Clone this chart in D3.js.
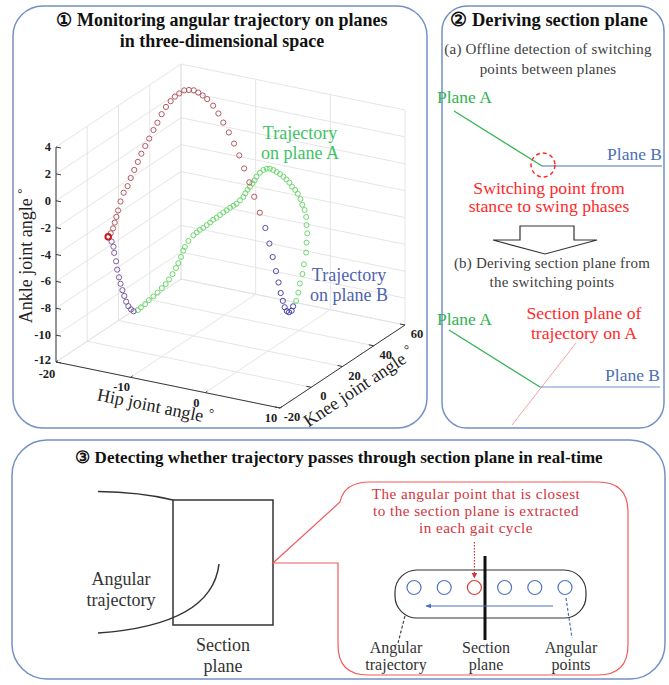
<!DOCTYPE html>
<html>
<head>
<meta charset="utf-8">
<script src="https://cdn.jsdelivr.net/npm/d3@7"></script>
<style>
  body { margin: 0; background: #fff; }
  text { font-family: "Liberation Serif", "Times New Roman", serif; }
</style>
</head>
<body>
<svg id="fig" width="669" height="685"></svg>
<script>
// axis ticks of the 3-D plot
const hipTicks = [-20, -10, 0, 10];
const kneeTicks = [-20, 0, 20, 40, 60];
const ankleTicks = [-12, -10, -8, -6, -4, -2, 0, 2, 4];

// trajectory points: [hip, knee, ankle] in degrees
const switchPoint = [-15.1, -10, -2.9];
const swingPoints = [
  [-15.4,-7,-2.9],[-15.5,-5,-2.7],[-15.9,-2,-2.55],[-16.1,0,-2.3],[-16.5,3,-2.1],[-16.8,6,-1.7],
  [-16.8,8,-1.2],[-16.9,11,-0.95],[-16.9,13,-0.5],[-17.05,16,-0.15],[-17.2,19,0.2],[-17.15,21,0.66],
  [-17.25,24,0.99],[-17.35,27,1.3],[-17.2,29,1.8],[-17.3,32,2.1],[-17.15,34,2.6],[-17.2,37,2.9],
  [-17.2,40,3.1],[-17.05,42,3.3],[-17.1,45,3.3],[-16.85,47,3.4],[-16.85,50,3.2],[-16.2,50,3.25],
  [-15.6,50,3.15],[-15.0,50,3.0],[-14.4,50,2.8],[-13.6,50,2.4],[-12.9,50,1.9],[-12.25,50,1.3],
  [-11.5,50,0.65],[-10.8,50,-0.1],[-10.1,50,-0.9],[-9.45,50,-1.8],[-8.75,50,-2.75],[-8.1,50,-3.75],
  [-7.35,50,-4.85]
];
const planeBRight = [
  [-6.4,49,-5.8],[-5.65,48,-6.8],[-5.0,47,-7.65],[-4.35,46,-8.55],[-3.8,45,-9.25],[-3.3,44,-9.9],
  [-2.8,43,-10.35],[-2.35,42,-10.7],[-1.85,41,-10.85],[-1.35,40,-10.8],[-1.0,40,-10.65],[-0.8,40,-10.3]
];
const planeA = [
  [-0.4,40,-9.85],[-0.1,40,-9.2],[0.1,40,-8.5],[0.45,40,-7.75],[0.65,40,-7.0],[0.95,40,-6.1],
  [1.0,40,-5.35],[1.1,40,-4.65],[1.0,40,-4.05],[0.95,40,-3.45],[0.95,39,-2.85],[0.75,38.5,-2.45],
  [0.6,38,-2.0],[0.35,37.5,-1.6],[0.1,37,-1.3],[-0.2,36.5,-1.05],[-0.45,36,-0.75],[-0.75,35.5,-0.5],
  [-1.05,35,-0.3],[-1.4,34.5,-0.1],[-1.75,34,0.05],[-2.1,33.5,0.2],[-2.45,33,0.3],[-2.65,32,0.35],
  [-2.9,31,0.3],[-3.15,30,0.15],[-3.4,29,-0.1],[-3.45,28,-0.3],[-3.55,27,-0.45],[-3.65,26,-0.65],
  [-3.75,25,-0.8],[-3.85,24,-1.0],[-3.9,23,-1.2],[-4.15,22,-1.4],[-4.4,21,-1.6],[-4.7,20.5,-1.75],
  [-5.05,20,-1.9],[-5.4,19.5,-2.1],[-5.75,19,-2.25],[-6.1,18.5,-2.45],[-6.45,18,-2.65],[-6.8,17.5,-2.8],
  [-7.1,17,-3.0],[-7.35,16,-3.15],[-7.6,15,-3.3],[-7.85,14,-3.4],[-8.05,13,-3.55],[-8.3,12,-3.7],
  [-8.55,10,-4.0],[-8.6,8,-4.3],[-8.6,7,-4.5],[-8.7,6,-4.9],[-8.85,5,-5.3],[-8.95,4,-5.6],
  [-9.0,2,-5.9],[-9.25,1,-6.25],[-9.5,0,-6.55],[-9.6,-2,-6.7],[-9.95,-3,-7.0],[-10.3,-4,-7.25],
  [-10.7,-5,-7.5],[-11.0,-6,-7.75],[-11.35,-7,-7.95],[-11.55,-8,-8.1]
];
const planeBLeft = [
  [-11.7,-10,-8.05],[-12.05,-10,-7.95],[-12.4,-10,-7.75],[-12.7,-10,-7.45],[-12.95,-10,-7.05],
  [-13.2,-10,-6.65],[-13.45,-10,-6.2],[-13.65,-10,-5.75],[-13.9,-10,-5.2],[-14.05,-10,-4.6],
  [-14.3,-10,-4.0],[-14.4,-10,-3.55],[-14.65,-10,-3.2]
];

// angular points of the schematic in panel 3
const anglePoints = [0, 1, 2, 3, 4, 5];
const closestPoint = 2;

const svg = d3.select('#fig');
svg.append('rect').attr('width', 669).attr('height', 685).attr('fill', '#fff');

const frameColor = '#7490c4';
const panels = [
  {x: 13, y: 6, w: 414, h: 422, r: 30},
  {x: 442, y: 6, w: 222, h: 422, r: 25},
  {x: 12, y: 440, w: 653, h: 239, r: 35}
];
svg.selectAll('rect.panel').data(panels).enter().append('rect')
    .attr('class', 'panel')
    .attr('x', d => d.x).attr('y', d => d.y)
    .attr('width', d => d.w).attr('height', d => d.h)
    .attr('rx', d => d.r)
    .attr('fill', 'none').attr('stroke', frameColor).attr('stroke-width', 1.5);

function lines(g, x, y0, dy, rows, attrs) {
  rows.forEach((t, i) => {
    const el = g.append('text').attr('x', x).attr('y', y0 + i * dy).attr('text-anchor', 'middle').text(t);
    Object.entries(attrs).forEach(([k, v]) => el.style(k, v));
  });
}

// ---------- panel 1 : 3-D scatter ----------
const p1 = svg.append('g');
lines(p1, 222, 26, 21, ['\u2460 Monitoring angular trajectory on planes', 'in three-dimensional space'],
  {'font-size': '18px', 'font-weight': 'bold', 'fill': '#111'});

// oblique projection built from linear scales
const origin = [56, 362];
const hipX = d3.scaleLinear().domain([-20, 10]).range([0, 224]);
const hipY = d3.scaleLinear().domain([-20, 10]).range([0, 46]);
const kneeX = d3.scaleLinear().domain([-20, 60]).range([0, 125]);
const kneeY = d3.scaleLinear().domain([-20, 60]).range([0, -83]);
const ankleY = d3.scaleLinear().domain([-12, 4]).range([0, -215]);
const proj = ([h, k, a]) => [origin[0] + hipX(h) + kneeX(k), origin[1] + hipY(h) + kneeY(k) + ankleY(a)];

const hMin = -20, hMax = 10, kMin = -20, kMax = 60, aMin = -12, aMax = 4;
const grid = [];
hipTicks.forEach(h => {
  grid.push([[h, kMin, aMin], [h, kMax, aMin]]);   // floor
  grid.push([[h, kMax, aMin], [h, kMax, aMax]]);   // back wall
});
kneeTicks.forEach(k => {
  grid.push([[hMin, k, aMin], [hMax, k, aMin]]);   // floor
  grid.push([[hMin, k, aMin], [hMin, k, aMax]]);   // side wall
});
ankleTicks.forEach(a => {
  grid.push([[hMin, kMax, a], [hMax, kMax, a]]);
  grid.push([[hMin, kMin, a], [hMin, kMax, a]]);
});
p1.append('g').selectAll('line').data(grid).enter().append('line')
    .attr('x1', d => proj(d[0])[0]).attr('y1', d => proj(d[0])[1])
    .attr('x2', d => proj(d[1])[0]).attr('y2', d => proj(d[1])[1])
    .attr('stroke', '#e2e2e2').attr('stroke-width', 0.9);

// axis lines
const axisCol = '#3a3a3a';
const axes = [
  [[hMin, kMin, aMin], [hMin, kMin, aMax]],
  [[hMin, kMin, aMin], [hMax, kMin, aMin]],
  [[hMax, kMin, aMin], [hMax, kMax, aMin]]
];
p1.append('g').selectAll('line').data(axes).enter().append('line')
    .attr('x1', d => proj(d[0])[0]).attr('y1', d => proj(d[0])[1])
    .attr('x2', d => proj(d[1])[0]).attr('y2', d => proj(d[1])[1])
    .attr('stroke', axisCol).attr('stroke-width', 1);

const tickFont = {'font-size': '12.5px', 'font-weight': 'bold', 'fill': '#222'};
const zt = p1.append('g');
ankleTicks.forEach(a => {
  const [x, y] = proj([hMin, kMin, a]);
  zt.append('line').attr('x1', x).attr('y1', y).attr('x2', x + 5).attr('y2', y + 1).attr('stroke', axisCol);
  const t = zt.append('text').attr('x', x - 5).attr('y', y + (a === aMin ? 2 : 4)).attr('text-anchor', 'end').text(a);
  Object.entries(tickFont).forEach(([k, v]) => t.style(k, v));
});
hipTicks.forEach(h => {
  const [x, y] = proj([h, kMin, aMin]);
  zt.append('line').attr('x1', x).attr('y1', y).attr('x2', x + 2).attr('y2', y - 1.5).attr('stroke', axisCol);
  const t = zt.append('text').attr('x', x - 9).attr('y', y + (h === hMin ? 16 : 14)).attr('text-anchor', 'middle').text(h);
  Object.entries(tickFont).forEach(([k, v]) => t.style(k, v));
});
kneeTicks.forEach(k => {
  const [x, y] = proj([hMax, k, aMin]);
  zt.append('line').attr('x1', x).attr('y1', y).attr('x2', x - 5).attr('y2', y - 1).attr('stroke', axisCol);
  const t = zt.append('text').attr('x', x + 12).attr('y', y + 13).attr('text-anchor', 'middle').text(k);
  Object.entries(tickFont).forEach(([kk, v]) => t.style(kk, v));
});

function axisTitle(x, y, rot, label) {
  const t = p1.append('text').attr('transform', `translate(${x},${y}) rotate(${rot})`)
      .attr('text-anchor', 'middle').style('font-size', '18px').style('fill', '#222');
  t.append('tspan').text(label + '  ');
  t.append('tspan').attr('dy', -6).style('font-size', '13px').text('\u00b0');
}
axisTitle(32, 256, -90, 'Ankle joint angle');
axisTitle(154, 412, 11.6, 'Hip joint  angle');
axisTitle(362, 392, -33.6, 'Knee joint  angle');

// trajectory markers
const planeBColor = d3.scaleLinear().domain([-15, -1]).range(['#86609e', '#4444a6']);
const pts = p1.append('g').attr('fill', 'none');
pts.selectAll('circle.a').data(planeA).enter().append('circle')
    .attr('cx', d => proj(d)[0]).attr('cy', d => proj(d)[1]).attr('r', 2.5)
    .attr('stroke', '#6cd86e').attr('stroke-width', 1);
pts.selectAll('circle.s').data(swingPoints).enter().append('circle')
    .attr('cx', d => proj(d)[0]).attr('cy', d => proj(d)[1]).attr('r', 2.6)
    .attr('stroke', '#b35a62').attr('stroke-width', 1);
pts.selectAll('circle.b').data(planeBRight.concat(planeBLeft)).enter().append('circle')
    .attr('cx', d => proj(d)[0]).attr('cy', d => proj(d)[1]).attr('r', 2.6)
    .attr('stroke', d => planeBColor(d[0])).attr('stroke-width', 1);
pts.append('circle').datum(switchPoint)
    .attr('cx', d => proj(d)[0]).attr('cy', d => proj(d)[1]).attr('r', 2.8)
    .attr('stroke', '#c41c1c').attr('stroke-width', 2);

lines(p1, 300, 139, 20, ['Trajectory', 'on plane A'], {'font-size': '18px', 'fill': '#3cc462'});
lines(p1, 349, 281, 20, ['Trajectory', 'on plane B'], {'font-size': '18px', 'fill': '#4e62ae'});

// ---------- panel 2 ----------
const p2 = svg.append('g');
const green = '#2fb350', blue = '#4a6fb5', red = '#ff2a2a';
lines(p2, 549, 26, 0, ['\u2461 Deriving section plane'], {'font-size': '18.5px', 'font-weight': 'bold', 'fill': '#111'});
lines(p2, 548, 54, 20, ['(a) Offline detection of switching', 'points between planes'],
  {'font-size': '15px', 'fill': '#404040', 'letter-spacing': '0.2px'});
p2.append('text').attr('x', 437).attr('y', 103).style('font-size', '17.5px').style('fill', green).text('Plane A');
p2.append('line').attr('x1', 454).attr('y1', 111).attr('x2', 542).attr('y2', 166).attr('stroke', green).attr('stroke-width', 1.2);
p2.append('line').attr('x1', 542).attr('y1', 166).attr('x2', 662).attr('y2', 166).attr('stroke', blue).attr('stroke-width', 1.2);
p2.append('text').attr('x', 662).attr('y', 160).attr('text-anchor', 'end').style('font-size', '17.5px').style('fill', blue).text('Plane B');
p2.append('circle').attr('cx', 543).attr('cy', 165).attr('r', 12).attr('fill', 'none')
    .attr('stroke', red).attr('stroke-width', 1.5).attr('stroke-dasharray', '4,3');
lines(p2, 549, 194, 18, ['Switching point from', 'stance to swing phases'], {'font-size': '17.7px', 'fill': red});

p2.append('polygon').attr('points', '520,226 574,226 574,240 597,240 545,254 493,240 520,240')
    .attr('fill', '#fff').attr('stroke', '#333').attr('stroke-width', 1.2);
lines(p2, 552, 268, 19, ['(b) Deriving section plane from', 'the switching points'],
  {'font-size': '15px', 'fill': '#404040', 'letter-spacing': '0.2px'});
p2.append('text').attr('x', 437).attr('y', 325).style('font-size', '17.5px').style('fill', green).text('Plane A');
lines(p2, 584, 319, 20, ['Section plane of', 'trajectory on A'], {'font-size': '17.7px', 'fill': red});
p2.append('line').attr('x1', 512).attr('y1', 425).attr('x2', 576).attr('y2', 343).attr('stroke', '#f5a3a3').attr('stroke-width', 1);
p2.append('line').attr('x1', 449).attr('y1', 330).attr('x2', 540).attr('y2', 387).attr('stroke', green).attr('stroke-width', 1.2);
p2.append('line').attr('x1', 540).attr('y1', 387).attr('x2', 660).attr('y2', 387).attr('stroke', '#6b94d0').attr('stroke-width', 1.2);
p2.append('text').attr('x', 660).attr('y', 381).attr('text-anchor', 'end').style('font-size', '17.5px').style('fill', blue).text('Plane B');

// ---------- panel 3 ----------
const p3 = svg.append('g');
lines(p3, 339, 463, 0, ['\u2462 Detecting whether trajectory passes through section plane in real-time'],
  {'font-size': '17px', 'font-weight': 'bold', 'fill': '#111'});
const dark = '#333';
p3.append('rect').attr('x', 173).attr('y', 500).attr('width', 100).attr('height', 125)
    .attr('fill', 'none').attr('stroke', dark).attr('stroke-width', 1.5);
p3.append('path').attr('d', 'M98,491.5 Q140,492 173,500').attr('fill', 'none').attr('stroke', dark).attr('stroke-width', 1.5);
p3.append('path').attr('d', 'M98,633 Q212,625 219,564').attr('fill', 'none').attr('stroke', dark).attr('stroke-width', 1.5);
lines(p3, 121, 585, 21, ['Angular', 'trajectory'], {'font-size': '18px', 'fill': dark});
lines(p3, 223, 651, 21, ['Section', 'plane'], {'font-size': '18px', 'fill': dark});

const calloutRed = '#f25a5a';
p3.append('path')
    .attr('d', 'M273,563 L340,502 Q344,482 370,482 L598,482 Q628,482 628,512 L628,645 Q628,675 598,675 L368,675 Q338,675 338,645 L338,563 Z')
    .attr('fill', '#fff').attr('stroke', calloutRed).attr('stroke-width', 1.2);
lines(p3, 476, 499, 17, ['The angular point that is closest', 'to the section plane is extracted', 'in each gait cycle'],
  {'font-size': '15.2px', 'fill': '#d2353d', 'letter-spacing': '0.45px'});

svg.append('defs').html(
  '<marker id="arR" viewBox="0 0 10 10" refX="9" refY="5" markerWidth="5" markerHeight="5" orient="auto"><path d="M0,0 L10,5 L0,10 z" fill="#d2353d"/></marker>' +
  '<marker id="arB" viewBox="0 0 10 10" refX="9" refY="5" markerWidth="6" markerHeight="6" orient="auto"><path d="M0,1 L10,5 L0,9 z" fill="#4a70c0"/></marker>');

p3.append('rect').attr('x', 395).attr('y', 570).attr('width', 191).attr('height', 48).attr('rx', 22)
    .attr('fill', 'none').attr('stroke', dark).attr('stroke-width', 1.2);
const slotX = d3.scalePoint().domain(anglePoints).range([414, 565]);
p3.selectAll('circle.ap').data(anglePoints).enter().append('circle')
    .attr('cx', d => slotX(d)).attr('cy', 587.5).attr('r', 7)
    .attr('fill', 'none').attr('stroke', d => d === closestPoint ? '#d83a3a' : '#4f74c4').attr('stroke-width', 1.2);
p3.append('line').attr('x1', 485).attr('y1', 556).attr('x2', 485).attr('y2', 640).attr('stroke', '#111').attr('stroke-width', 3);
p3.append('line').attr('x1', slotX(closestPoint)).attr('y1', 542).attr('x2', slotX(closestPoint)).attr('y2', 578)
    .attr('stroke', '#d2353d').attr('stroke-width', 1.2).attr('stroke-dasharray', '1.5,1.5').attr('marker-end', 'url(#arR)');
p3.append('line').attr('x1', 553).attr('y1', 606).attr('x2', 426).attr('y2', 606)
    .attr('stroke', '#4a70c0').attr('stroke-width', 1).attr('marker-end', 'url(#arB)');
p3.append('line').attr('x1', 405).attr('y1', 616).attr('x2', 398).attr('y2', 643)
    .attr('stroke', '#444').attr('stroke-width', 1.2).attr('stroke-dasharray', '3,2');
p3.append('line').attr('x1', 566).attr('y1', 598).attr('x2', 572).attr('y2', 638)
    .attr('stroke', '#4a70c0').attr('stroke-width', 1.2).attr('stroke-dasharray', '3,2');
lines(p3, 396, 653, 17, ['Angular', 'trajectory'], {'font-size': '16px', 'fill': dark});
lines(p3, 486, 653, 17, ['Section', 'plane'], {'font-size': '16px', 'fill': dark});
lines(p3, 571, 653, 17, ['Angular', 'points'], {'font-size': '16px', 'fill': dark});
</script>
</body>
</html>
